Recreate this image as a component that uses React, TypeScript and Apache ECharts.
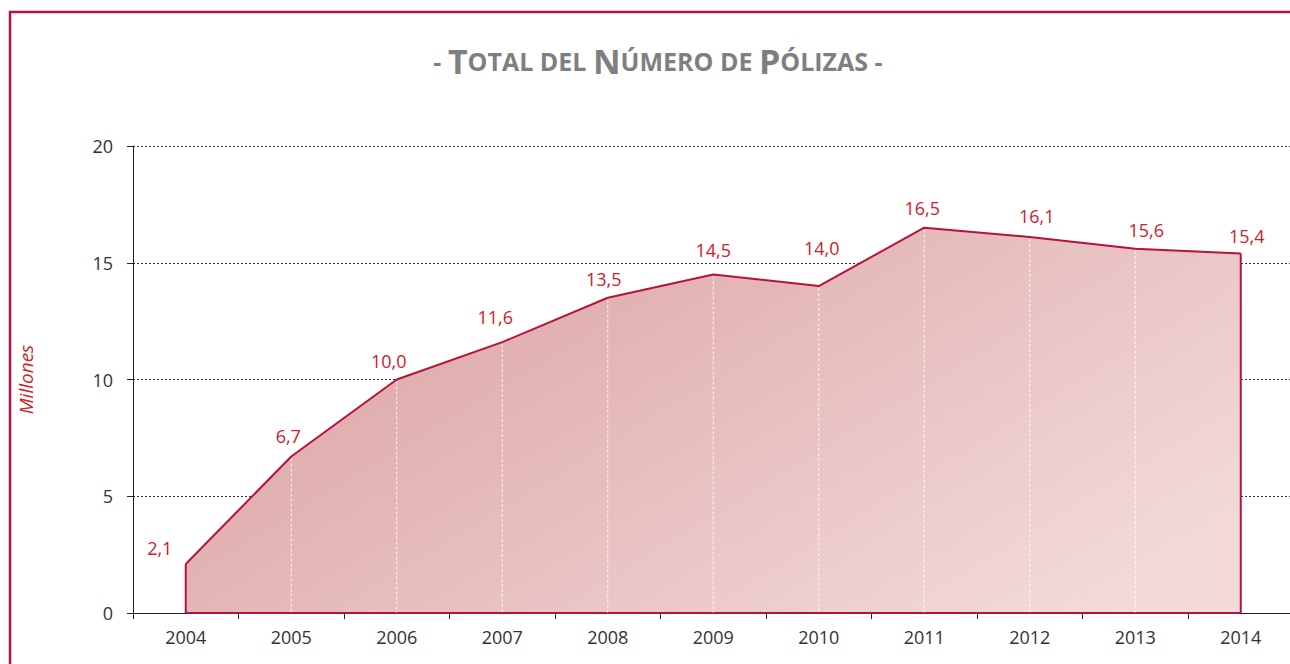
import React, { useEffect, useRef } from "react";
import * as echarts from "echarts";

const years = ["2004", "2005", "2006", "2007", "2008", "2009", "2010", "2011", "2012", "2013", "2014"];
const polizas = [2.1, 6.7, 10.0, 11.6, 13.5, 14.5, 14.0, 16.5, 16.1, 15.6, 15.4];
const yTicks = { min: 0, max: 20, interval: 5 };

// label placement (pixel offsets from each point), style only
const labelDx = [-26, -3, -8, -7, -4, 0, 3, -2, 7, 11, 6];
const labelDy = [-16, -21, -19, -25, -19, -24, -38, -20, -21, -19, -17];

const RED = "#b8123c";
const LABEL_RED = "#d0202a";
const FONT = "'Open Sans', 'Noto Sans', sans-serif";

export default function App() {
  const ref = useRef<HTMLDivElement>(null);
  useEffect(() => {
    document.body.style.margin = "0";
    document.body.style.overflow = "hidden";
    const chart = echarts.init(ref.current!, null, { renderer: "svg" });
    const last = polizas.length - 1;
    chart.setOption({
      animation: false,
      backgroundColor: "#ffffff",
      title: {
        left: 653,
        textAlign: "center",
        top: 39,
        text: "{d|- }{b|T}{s|OTAL DEL }{b|N}{s|ÚMERO DE }{b|P}{s|ÓLIZAS}{d| -}",
        textStyle: {
          rich: {
            d: { fontSize: 25, fontWeight: "bold", color: "#7f7f7f", fontFamily: FONT },
            b: { fontSize: 34, fontWeight: "bold", color: "#7f7f7f", fontFamily: FONT },
            s: { fontSize: 25, fontWeight: "bold", color: "#7f7f7f", fontFamily: FONT },
          },
        },
      },
      graphic: [
        {
          type: "rect",
          shape: { x: 10, y: 12, width: 1400, height: 800 },
          style: { fill: "none", stroke: RED, lineWidth: 2.5 },
          silent: true,
          z: 100,
        },
      ],
      grid: { left: 133, right: 6.5, top: 146, bottom: 51, containLabel: false },
      xAxis: {
        type: "category",
        data: years,
        boundaryGap: true,
        axisLine: { lineStyle: { color: "#222", width: 1 } },
        axisTick: { show: true, length: 6, lineStyle: { color: "#222" } },
        axisLabel: { color: "#333", fontSize: 18, fontFamily: FONT, margin: 15 },
      },
      yAxis: {
        type: "value",
        min: yTicks.min,
        max: yTicks.max,
        interval: yTicks.interval,
        name: "Millones",
        nameLocation: "middle",
        nameRotate: 90,
        nameGap: 98,
        nameTextStyle: { color: LABEL_RED, fontStyle: "italic", fontSize: 19, fontFamily: FONT },
        axisLine: { show: true, lineStyle: { color: "#222", width: 1 } },
        axisTick: { show: true, length: 6, lineStyle: { color: "#222" } },
        axisLabel: { color: "#333", fontSize: 18, fontFamily: FONT, margin: 20 },
        splitLine: { show: true, lineStyle: { color: "#333", type: [2, 2], width: 1 } },
      },
      series: [
        {
          type: "line",
          data: polizas,
          symbol: "none",
          lineStyle: { color: RED, width: 2 },
          areaStyle: {
            opacity: 1,
            color: {
              type: "linear",
              x: 0, y: 0.2, x2: 1, y2: 0.8,
              colorStops: [
                { offset: 0, color: "#dba1a1" },
                { offset: 1, color: "#f3dbdb" },
              ],
            },
          },
          z: 2,
        },
        {
          type: "custom",
          data: polizas.map((v, i) => [i, v]),
          silent: true,
          z: 3,
          renderItem: (params: any, api: any) => {
            const i = api.value(0);
            const v = api.value(1);
            const top = api.coord([i, v]);
            const bot = api.coord([i, 0]);
            const children: any[] = [];
            if (i === 0 || i === last) {
              children.push({
                type: "line",
                shape: { x1: top[0], y1: top[1], x2: bot[0], y2: bot[1] },
                style: { stroke: RED, lineWidth: 2 },
              });
            } else {
              children.push({
                type: "line",
                shape: { x1: top[0], y1: top[1] + 2, x2: bot[0], y2: bot[1] },
                style: { stroke: "rgba(255,255,255,0.85)", lineWidth: 1, lineDash: [3, 2] },
              });
            }
            if (i < last) {
              const next = api.coord([i + 1, 0]);
              children.push({
                type: "line",
                shape: { x1: bot[0], y1: bot[1], x2: next[0], y2: next[1] },
                style: { stroke: RED, lineWidth: 2 },
              });
            }
            children.push({
              type: "text",
              x: top[0] + labelDx[i],
              y: top[1] + labelDy[i],
              style: {
                text: v.toFixed(1).replace(".", ","),
                fill: LABEL_RED,
                fontSize: 18,
                fontFamily: FONT,
                align: "center",
                verticalAlign: "middle",
              },
            });
            return { type: "group", children };
          },
        },
      ],
    });
    return () => chart.dispose();
  }, []);
  return <div ref={ref} style={{ position: "fixed", left: 0, top: 0, width: 1300, height: 664 }} />;
}
